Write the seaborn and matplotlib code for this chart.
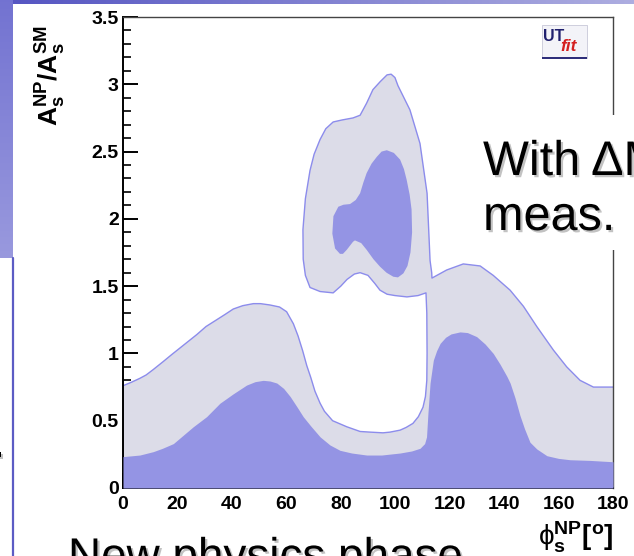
import numpy as np
import matplotlib
matplotlib.use("Agg")
import matplotlib.pyplot as plt
import matplotlib.patheffects as pe
from matplotlib.patches import Rectangle
from matplotlib.ticker import MultipleLocator
import seaborn as sns

# ---------------- data ----------------
x_ticks = [0, 20, 40, 60, 80, 100, 120, 140, 160, 180]
x_tick_labels = ["0", "20", "40", "60", "80", "100", "120", "140", "160", "180"]
y_ticks = [0, 0.5, 1, 1.5, 2, 2.5, 3, 3.5]
y_tick_labels = ["0", "0.5", "1", "1.5", "2", "2.5", "3", "3.5"]

# outer (light) probability contour, traced from phi=180 leftwards
outer_phi = [180, 172.8, 167.9, 163.0, 158.1, 152.0, 147.1, 142.2, 136.0, 131.2,
             125.0, 118.9, 113.5,
             113.4, 112.8, 111.7, 109.1, 105.4, 101.0, 99.9, 98.5, 97.0, 94.5,
             91.8, 89.5, 87.1, 84.5, 80.5, 77.2, 74.5, 72.4, 70.2, 68.7, 67.0,
             66.1, 66.2, 67.0, 68.7, 72.4, 77.2, 80.0, 82.3, 85.0, 87.1, 90.0,
             92.5, 94.4, 97.0, 99.9, 104.3, 108.4, 111.3,
             111.6, 111.7, 111.6, 111.1, 110.2, 108.5, 106.5, 104.0, 101.8, 98.0,
             95.5, 91.0, 87.1, 82.2, 77.0, 74.0, 72.4, 70.5, 69.0, 67.5, 66.0,
             64.3, 62.6, 60.1, 57.5, 54.0, 50.5, 47.9, 44.0, 40.5, 37.5, 34.4,
             30.5, 27.1, 24.0, 20.9, 17.8, 14.8, 11.1, 8.5, 6.2, 3.0, 0]
outer_A = [0.75, 0.75, 0.80, 0.90, 1.025, 1.20, 1.35, 1.47, 1.58, 1.65,
           1.665, 1.62, 1.56,
           1.60, 1.69, 2.19, 2.56, 2.81, 2.99, 3.05, 3.075, 3.07, 3.02,
           2.96, 2.86, 2.77, 2.75, 2.735, 2.72, 2.67, 2.59, 2.48, 2.36, 2.15,
           1.92, 1.70, 1.58, 1.49, 1.46, 1.45, 1.50, 1.55, 1.59, 1.60, 1.58,
           1.52, 1.47, 1.44, 1.43, 1.42, 1.43, 1.45,
           1.30, 1.00, 0.80, 0.68, 0.60, 0.53, 0.48, 0.45, 0.43, 0.415,
           0.41, 0.415, 0.42, 0.455, 0.50, 0.57, 0.63, 0.72, 0.82, 0.91, 1.02,
           1.13, 1.22, 1.31, 1.345, 1.36, 1.37, 1.37, 1.355, 1.33, 1.29, 1.25,
           1.20, 1.14, 1.09, 1.04, 0.99, 0.94, 0.88, 0.84, 0.815, 0.785, 0.76]

# inner (dark) band: upper boundary above A=0
band_phi = [0, 6.2, 11.1, 14.5, 18.5, 22.0, 25.8, 30.7, 35.6, 40.5, 45.4, 48.5,
            51.5, 54.0, 56.5, 59.0, 61.4, 64.0, 66.2, 69.0, 72.4, 76.0, 79.7,
            84.0, 89.5, 95.0, 101.8, 106.0, 109.1, 110.8, 111.5, 112.0, 112.8,
            114.0, 115.2, 116.5, 118.5, 120.5, 123.8, 126.5, 129.9, 133.0,
            136.0, 138.5, 141.0, 142.2, 144.0, 145.8, 147.5, 149.5, 152.0,
            155.7, 160.0, 164.2, 171.6, 180]
band_A = [0.233, 0.245, 0.27, 0.295, 0.33, 0.39, 0.455, 0.53, 0.63, 0.70, 0.765,
          0.79, 0.80, 0.795, 0.78, 0.74, 0.68, 0.60, 0.53, 0.46, 0.38, 0.32,
          0.28, 0.26, 0.245, 0.245, 0.26, 0.275, 0.295, 0.33, 0.38, 0.55, 0.78,
          0.95, 1.02, 1.075, 1.12, 1.145, 1.16, 1.155, 1.125, 1.07, 1.00, 0.92,
          0.83, 0.78, 0.67, 0.54, 0.44, 0.34, 0.29, 0.24, 0.22, 0.21, 0.205,
          0.195]

# inner (dark) island core
core_phi = [96.9, 99.5, 101.8, 103.2, 104.2, 105.3, 106.0, 106.2, 105.6, 104.5,
            103.0, 101.0, 99.3, 96.8, 94.4, 92.0, 89.5, 87.5, 85.2, 84.5, 82.2,
            80.8, 79.7, 77.9, 76.9, 77.3, 79.1, 81.0, 83.4, 85.5, 87.1, 88.3,
            89.5, 91.3, 93.2, 95.0]
core_A = [2.51, 2.49, 2.44, 2.37, 2.29, 2.18, 2.07, 1.90, 1.75, 1.65,
          1.595, 1.565, 1.57, 1.60, 1.645, 1.70, 1.77, 1.82, 1.84, 1.83, 1.77,
          1.74, 1.74, 1.78, 1.89, 2.02, 2.09, 2.105, 2.11, 2.14, 2.19, 2.27,
          2.34, 2.41, 2.46, 2.50]

# ---------------- styling ----------------
LIGHT = "#dcdce8"
DARK = "#9494e4"
EDGE = "#8c8cec"

sns.set_theme(style="white")
plt.rcParams.update({
    "font.family": ["Liberation Sans", "DejaVu Sans"],
    "mathtext.fontset": "custom",
    "mathtext.rm": "Liberation Sans",
    "mathtext.bf": "Liberation Sans:bold",
    "mathtext.it": "Liberation Sans:italic",
    "mathtext.sf": "Liberation Sans",
})

W, H = 634, 556
fig = plt.figure(figsize=(W / 100, H / 100), dpi=100)
fig.patch.set_facecolor("white")

# slide decorations: top band and left block
top_grad = np.linspace(0, 1, W)
c0 = np.array([0.33, 0.33, 0.76]); c1 = np.array([0.68, 0.68, 0.88])
top_img = (c0[None, None, :] * (1 - top_grad)[None, :, None] + c1[None, None, :] * top_grad[None, :, None])
top_img = np.repeat(top_img, 4, axis=0)
fig.figimage(top_img, xo=0, yo=H - 4, origin="upper", zorder=1)

left_grad = np.linspace(0, 1, 258)
l0 = np.array([0.45, 0.45, 0.82]); l1 = np.array([0.60, 0.60, 0.87])
left_img = l0[None, None, :] * (1 - left_grad)[:, None, None] + l1[None, None, :] * left_grad[:, None, None]
left_img = np.repeat(left_img, 13, axis=1)
fig.figimage(left_img, xo=0, yo=H - 258, origin="upper", zorder=1)
fig.add_artist(plt.Line2D([12.5 / W, 12.5 / W], [0, 1 - 258 / H], color="#5c5cc4", lw=1.6,
                          transform=fig.transFigure))

# ---------------- main plot ----------------
ax = fig.add_axes([123 / W, 1 - 488 / H, 490 / W, 471 / H])
ax.set_facecolor("white")

ax.fill(np.r_[x_ticks[0], x_ticks[-1], outer_phi],
        np.r_[y_ticks[0], y_ticks[0], outer_A], color=LIGHT, lw=0, zorder=1)
sns.lineplot(x=outer_phi, y=outer_A, sort=False, estimator=None, color=EDGE,
             lw=1.0, ax=ax, zorder=2)
ax.fill_between(band_phi, y_ticks[0], band_A, color=DARK, lw=0, zorder=3)
ax.fill(core_phi, core_A, color=DARK, lw=0, zorder=3)

ax.set_xlim(x_ticks[0], x_ticks[-1])
ax.set_ylim(y_ticks[0], y_ticks[-1])
ax.set_xticks(x_ticks)
ax.set_xticklabels(x_tick_labels, fontweight="bold", fontsize=14)
ax.set_yticks(y_ticks)
ax.set_yticklabels(y_tick_labels, fontweight="bold", fontsize=14)
ax.xaxis.set_minor_locator(MultipleLocator(5))
ax.yaxis.set_minor_locator(MultipleLocator(0.1))
ax.tick_params(which="both", direction="in", top=False, right=False,
               bottom=True, left=True, color="black", labelcolor="black")
ax.tick_params(which="major", length=10.5, width=1.4)
ax.tick_params(which="minor", length=5.8, width=1.2)
ax.tick_params(axis="x", which="major", pad=5.5)
ax.tick_params(axis="y", which="major", pad=3)
ax.set_xlabel(""); ax.set_ylabel("")
for s in ["left", "bottom"]:
    ax.spines[s].set_color("black"); ax.spines[s].set_linewidth(1.4)
for s in ["top", "right"]:
    ax.spines[s].set_color("#444444"); ax.spines[s].set_linewidth(1.0)
    ax.spines[s].set_visible(True)

# axis titles
fig.text(51 / W, 1 - 76 / H, r"$\mathbf{A_s^{NP}/A_s^{SM}}$", rotation=90,
         ha="center", va="center", fontsize=19, color="black")
fig.text(613 / W, 1 / H, r"$\mathrm{\phi}_{\mathbf{s}}^{\mathbf{NP}}\mathbf{[^{o}]}$",
         ha="right", va="bottom", fontsize=20, color="black")

# UTfit logo
fig.add_artist(Rectangle((542 / W, 1 - 58 / H), 45 / W, 33 / H, transform=fig.transFigure,
                         facecolor="#f3f3f8", edgecolor="#c8c8d8", lw=0.6, zorder=4))
fig.add_artist(Rectangle((542 / W, 1 - 59 / H), 45 / W, 2.5 / H, transform=fig.transFigure,
                         facecolor="#2e2e7a", edgecolor="none", zorder=4))
fig.text(543 / W, 1 - 41 / H, "UT", fontsize=11.5, fontweight="bold", color="#20206e",
         ha="left", va="baseline", zorder=5)
fig.text(560 / W, 1 - 51 / H, "fit", fontsize=12.5, fontstyle="italic", fontweight="bold",
         color="#d42020", ha="left", va="baseline", zorder=5)

# slide text box and texts
fig.add_artist(Rectangle((470 / W, 1 - 250 / H), (W - 470) / W, 135 / H,
                         transform=fig.transFigure, facecolor="white", edgecolor="none", zorder=5))
shadow = [pe.withSimplePatchShadow(offset=(1.6, -1.6), shadow_rgbFace="#9a9a9a", alpha=0.6)]
fig.text(483 / W, 1 - 175 / H, "With \u0394M", fontsize=35, color="black",
         ha="left", va="baseline", zorder=6, path_effects=shadow)
fig.text(483 / W, 1 - 230 / H, "meas.", fontsize=35, color="black",
         ha="left", va="baseline", zorder=6, path_effects=shadow)
fig.text(68 / W, 1 - 570 / H, "New physics phase", fontsize=33, color="black",
         ha="left", va="baseline", zorder=6, path_effects=shadow)
fig.text(-8 / W, 1 - 457 / H, ".", fontsize=33, color="black",
         ha="left", va="baseline", zorder=6, path_effects=shadow)

fig.savefig("out.png", dpi=100)
